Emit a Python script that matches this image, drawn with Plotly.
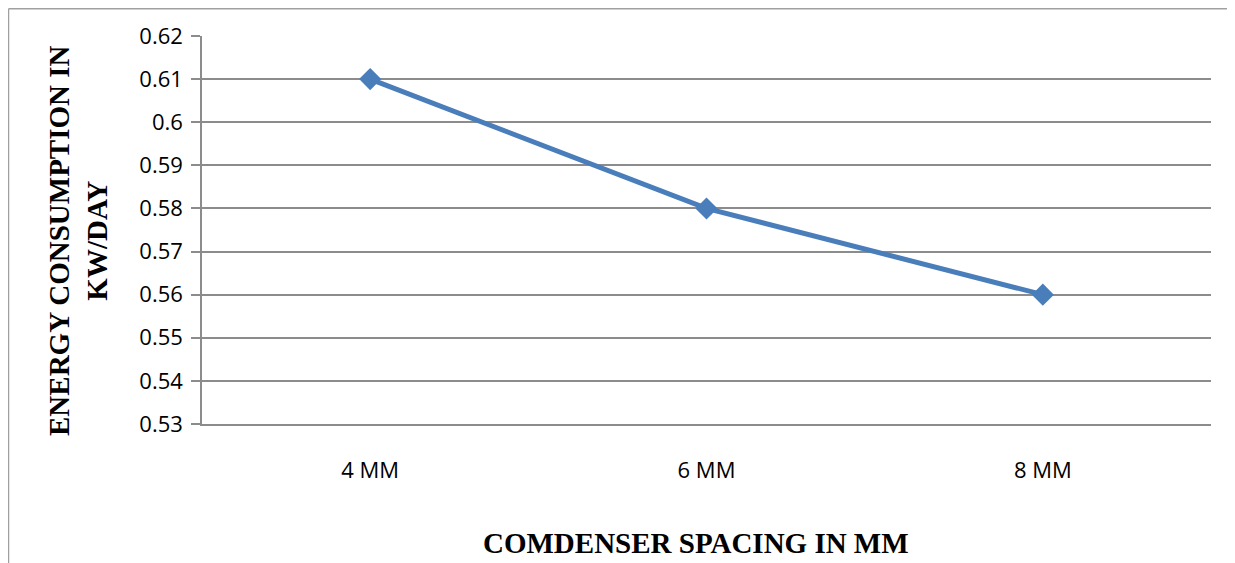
import plotly.graph_objects as go

categories = ["4 MM", "6 MM", "8 MM"]
energy = [0.61, 0.58, 0.56]
y_ticks = [0.53, 0.54, 0.55, 0.56, 0.57, 0.58, 0.59, 0.60, 0.61, 0.62]
y_tick_labels = ["0.53", "0.54", "0.55", "0.56", "0.57", "0.58", "0.59", "0.6", "0.61", "0.62"]

W, H = 1235, 563
OFF = 8  # page body margin
L, R, T, B = 202 - OFF, 1211 - OFF, 36 - OFF, 424 - OFF
pw, ph = R - L, B - T

def px(x):
    return (x - OFF - L) / pw

def py(y):
    return (B - (y - OFF)) / ph

fig = go.Figure()
fig.add_trace(go.Scatter(
    x=categories, y=energy, mode="lines+markers",
    line=dict(color="#4a7ebb", width=5),
    marker=dict(symbol="diamond", size=17, color="#4a7ebb"),
    showlegend=False,
))

grid = "#8c8c8c"
fig.update_layout(
    width=W, height=H,
    margin=dict(l=L, r=W - R, t=T, b=H - B),
    paper_bgcolor="white", plot_bgcolor="white",
    font=dict(family="Open Sans, Liberation Sans, sans-serif", size=22, color="black"),
    xaxis=dict(
        type="category", range=[-0.5, 2.5], showgrid=False,
        showline=True, linecolor=grid, linewidth=1.5,
        ticks="", tickfont=dict(size=22), ticklabelstandoff=26,
    ),
    yaxis=dict(
        range=[0.53, 0.62], tickvals=y_ticks, ticktext=y_tick_labels,
        showgrid=True, gridcolor=grid, gridwidth=1.5,
        showline=True, linecolor=grid, linewidth=1.5,
        ticks="outside", ticklen=9, tickcolor=grid, tickwidth=1.5,
        tickfont=dict(size=22), zeroline=False, ticklabelstandoff=4,
    ),
    annotations=[
        dict(xref="paper", yref="paper", x=px(78), y=py(241),
             text="<b>ENERGY CONSUMPTION IN<br>KW/DAY</b>", textangle=-90, showarrow=False,
             font=dict(family="Liberation Serif, Times New Roman, serif", size=29, color="black"),
             xanchor="center", yanchor="middle"),
        dict(xref="paper", yref="paper", x=px(696), y=py(543),
             text="<b>COMDENSER SPACING IN MM</b>", showarrow=False,
             font=dict(family="Liberation Serif, Times New Roman, serif", size=29, color="black"),
             xanchor="center", yanchor="middle"),
    ],
    shapes=[
        dict(type="line", xref="paper", yref="paper", x0=px(8.5), x1=px(8.5), y0=py(8.75), y1=py(580),
             line=dict(color="#a0a0a0", width=1.5)),
        dict(type="line", xref="paper", yref="paper", x0=px(8.5), x1=px(1250), y0=py(8.75), y1=py(8.75),
             line=dict(color="#a0a0a0", width=1.5)),
    ],
)

fig.write_html("out.html")
